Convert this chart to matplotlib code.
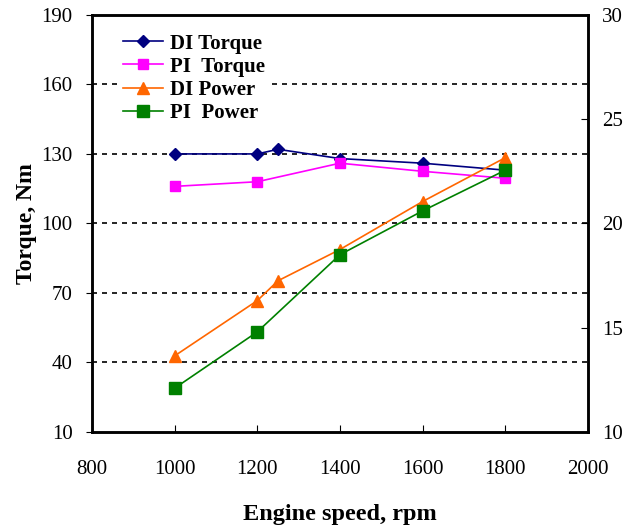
import numpy as np
import matplotlib.pyplot as plt

plt.rcParams['font.family'] = ['Liberation Serif', 'DejaVu Serif']

speed = [1000, 1200, 1250, 1400, 1600, 1800]
speed_pi = [1000, 1200, 1400, 1600, 1800]
di_torque = [130, 130, 132, 128, 126, 123]
pi_torque = [116, 118, 126, 122.5, 119.5]
di_power = [13.65, 16.3, 17.25, 18.75, 21.05, 23.15]
pi_power = [12.1, 14.8, 18.5, 20.6, 22.55]

fig = plt.figure(figsize=(6.26, 5.32), dpi=100)
ax = fig.add_axes([0.147, 0.188, 0.792, 0.784])
ax2 = ax.twinx()

l1, = ax.plot(speed, di_torque, color='#000080', marker='D', ms=6, lw=1.2, label='DI Torque')
l2, = ax.plot(speed_pi, pi_torque, color='#FF00FF', marker='s', ms=7, lw=1.2, label='PI  Torque')
l3, = ax2.plot(speed, di_power, color='#FF6600', marker='^', ms=8, lw=1.2, label='DI Power')
l4, = ax2.plot(speed_pi, pi_power, color='#008000', marker='s', ms=8, lw=1.2, label='PI  Power')

ax.set_xlim(800, 2000)
ax.set_ylim(10, 190)
ax.set_xticks(np.arange(800, 2001, 200))
ax.set_yticks(np.arange(10, 191, 30))
ax2.set_ylim(10, 30)
ax2.set_yticks([10, 15, 20, 25, 30])

for y in [40, 70, 100, 130, 160]:
    ax.axhline(y, color='black', lw=1.2, ls=(0, (3, 3)), zorder=0)

ax.tick_params(axis='x', direction='in', length=5, labelsize=15, pad=20)
ax.tick_params(axis='y', direction='out', length=4, labelsize=15, pad=10)
ax2.tick_params(axis='y', direction='in', length=5, labelsize=15, pad=10)
for a in (ax, ax2):
    for s in a.spines.values():
        s.set_linewidth(1.8)

ax.set_xlabel('Engine speed, rpm', fontsize=17.5, fontweight='bold', labelpad=18)
ax.set_ylabel('Torque, Nm', fontsize=17, fontweight='bold', labelpad=3)

leg = ax2.legend(handles=[l1, l2, l3, l4], loc='upper left', bbox_to_anchor=(0.05, 0.97),
                 frameon=True, handlelength=1.9, labelspacing=0.15,
                 handletextpad=0.35, borderaxespad=0, borderpad=0.3,
                 prop={'weight': 'bold', 'size': 15})
leg.get_frame().set_facecolor('white')
leg.get_frame().set_edgecolor('none')
leg.get_frame().set_alpha(1)

fig.savefig('out.png', dpi=100)
